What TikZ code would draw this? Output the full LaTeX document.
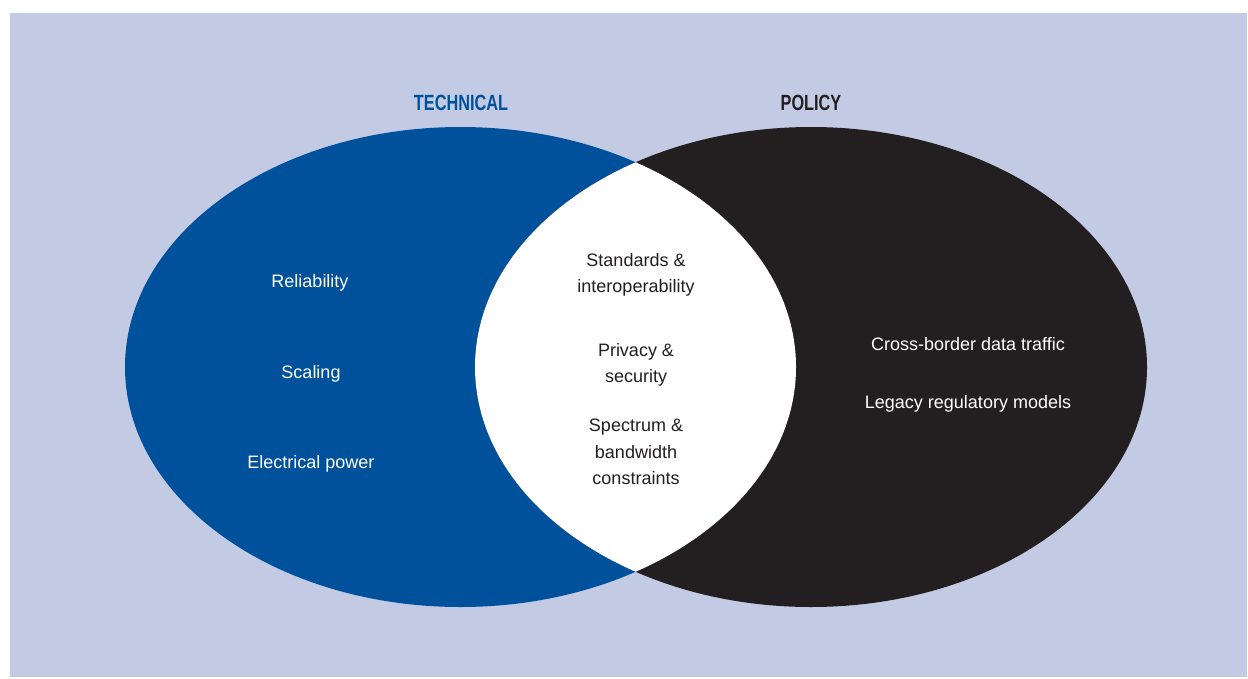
\documentclass[tikz,border=0pt]{standalone}
\usepackage{fontspec}
\setmainfont{Liberation Sans}
\newfontfamily\headfont{Liberation Sans}[FakeStretch=0.74]
\usepackage{tikz}
\usetikzlibrary{positioning,calc}
\definecolor{bgblue}{RGB}{195,202,228}
\definecolor{techblue}{RGB}{0,81,155}
\definecolor{polblack}{RGB}{35,31,32}
\tikzset{
  item/.style={text=white, font=\fontsize{13.5}{19.8}\selectfont, align=center},
  mid/.style={text=polblack, font=\fontsize{13.5}{19.8}\selectfont, align=center},
  head/.style={font=\headfont\bfseries\fontsize{16.5}{20}\selectfont}
}
\begin{document}
\begin{tikzpicture}[x=0.75pt,y=-0.75pt]
        \useasboundingbox (0,0) rectangle (1248,678);
        \fill[bgblue] (10,13) rectangle (1247,677);
        % the two sets
        \fill[techblue] (460.5,367) ellipse [x radius=335.5, y radius=240];
        \fill[polblack] (811,367) ellipse [x radius=336, y radius=240];
        % overlap
        \begin{scope}
            \clip (460.5,367) ellipse [x radius=335.5, y radius=240];
            \fill[white] (811,367) ellipse [x radius=336, y radius=240];
        \end{scope}
        \node[head, text=techblue] (tech) at (461,103) {TECHNICAL};
        \node[head, text=polblack] (pol) at (811,103) {POLICY};
        \node[item] (rel) at (310,283) {Reliability};
        \node[item] (scal) at (311,374) {Scaling};
        \node[item] (power) at (311,464) {Electrical power};
        \node[mid] (std) at (636,275) {Standards \&\\interoperability};
        \node[mid] (priv) at (636,365) {Privacy \&\\security};
        \node[mid] (spec) at (636,452) {Spectrum \&\\bandwidth\\constraints};
        \node[item] (cross) at (968,344) {Cross-border data traffic};
        \node[item] (legacy) at (968,404) {Legacy regulatory models};
    \end{tikzpicture}
\end{document}
